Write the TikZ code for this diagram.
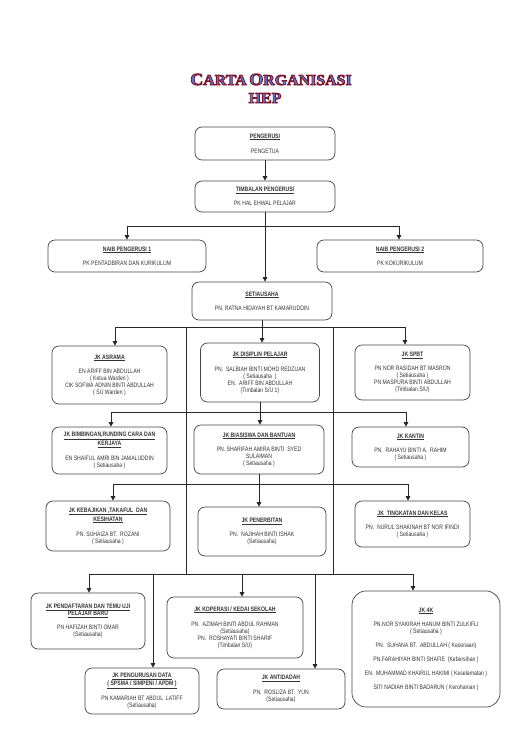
\documentclass[tikz,border=0pt]{standalone}
\usepackage{fontspec}
\setmainfont{Liberation Sans}[FakeStretch=0.8]
\newfontfamily\titlefont{Liberation Serif}[FakeStretch=1.06]
\usetikzlibrary{arrows.meta}
\definecolor{titleblue}{RGB}{85,125,225}
\definecolor{linegray}{RGB}{40,40,40}
\definecolor{boxgray}{RGB}{70,70,70}
\newcommand\boxtitle[1]{\underline{\textbf{#1}}}
\newcommand\bigsmall[2]{{\fontsize{17}{17}\selectfont #1}{\fontsize{15}{15}\selectfont #2}}
\newcommand\outlined[1]{\special{pdf:literal direct 0.49 0.08 0.16 RG 0.9 w 1 j 2 Tr}#1\special{pdf:literal direct 0 Tr}}
\begin{document}
\begin{tikzpicture}[x=1pt,y=-1pt,
  box/.style={draw=boxgray, line width=0.7pt, rounded corners=7pt, align=center,
    font=\fontsize{6.4}{7}\selectfont, text=black!80, inner sep=0pt},
  conn/.style={draw=linegray, line width=0.8pt},
  arr/.style={conn, -{Triangle[length=4.5pt,width=4.5pt]}},
  titletext/.style={anchor=base, inner sep=0pt, font=\titlefont\bfseries, text=titleblue}]
\fill[white] (0,0) rectangle (530,750);
\useasboundingbox (0,0) rectangle (530,750);

% ---- title ----
\node[titletext] (tA) at (271,85) {\outlined{\bigsmall{C}{ARTA} \bigsmall{O}{RGANISASI}}};
\node[titletext, font=\titlefont\bfseries\fontsize{15}{15}\selectfont] (tB) at (265,103) {\outlined{HEP}};

% ---- boxes ----
\node[box, minimum width=140pt, minimum height=33pt] (peng) at (265,143.5)
  {\boxtitle{PENGERUSI}\\[8pt]PENGETUA};
\node[box, minimum width=140pt, minimum height=31pt] (timb) at (265,196.5)
  {\boxtitle{TIMBALAN PENGERUSI}\\[7pt]PK HAL EHWAL PELAJAR};
\node[box, minimum width=158pt, minimum height=32pt] (naib1) at (127,256)
  {\boxtitle{NAIB PENGERUSI 1}\\[7pt]PK PENTADBIRAN DAN KURIKULUM};
\node[box, minimum width=166pt, minimum height=32pt] (naib2) at (400,256)
  {\boxtitle{NAIB PENGERUSI 2}\\[7pt]PK KOKURIKULUM};
\node[box, minimum width=140pt, minimum height=38pt] (setia) at (262,301)
  {\boxtitle{SETIAUSAHA}\\[7pt]PN. RATNA HIDAYAH BT KAMARUDDIN};

\node[box, minimum width=115pt, minimum height=58pt] (asrama) at (109.5,375)
  {\boxtitle{JK ASRAMA}\\[7pt]EN ARIFF BIN ABDULLAH\\( Ketua Warden )\\CIK SOFWA ADNIN BINTI ABDULLAH\\( SU Warden )};
\node[box, minimum width=119pt, minimum height=59pt] (disiplin) at (260,372.5)
  {\boxtitle{JK DISIPLIN PELAJAR}\\[8pt]PN.~ SALBIAH BINTI MOHD REDZUAN\\( Setiausaha~ )\\EN.~ ARIFF BIN ABDULLAH\\(Timbalan S/U 1)};
\node[box, minimum width=115pt, minimum height=55pt] (spbt) at (412.5,372.5)
  {\boxtitle{JK SPBT}\\[7pt]PN NOR RASIDAH BT MASRON\\( Setiausaha )\\PN MASPURA BINTI ABDULLAH\\(Timbalan S/U)};

\node[box, minimum width=115pt, minimum height=47pt] (bimb) at (109.5,450.5)
  {\boxtitle{JK BIMBINGAN,RUNDING CARA DAN}\\[0.5pt]\boxtitle{KERJAYA}\\[8pt]EN SHAIFUL AMRI BIN JAMALUDDIN\\( Setiausaha )};
\node[box, minimum width=130pt, minimum height=49pt] (biasiswa) at (259,449.5)
  {\boxtitle{JK BIASISWA DAN BANTUAN}\\[7pt]PN. SHARIFAH AMIRA BINTI~ SYED\\SULAIMAN\\( Setiausaha )};
\node[box, minimum width=117pt, minimum height=40pt] (kantin) at (410.5,447)
  {\boxtitle{JK KANTIN}\\[7pt]PN.~ RAHAYU BINTI A.~ RAHIM\\( Setiausaha )};

\node[box, minimum width=124pt, minimum height=50pt] (kebaj) at (108,526)
  {\boxtitle{JK KEBAJIKAN ,TAKAFUL~ DAN}\\[0.5pt]\boxtitle{KESIHATAN}\\[8pt]PN. SUHAIZA BT.~ ROZANI\\( Setiausaha )};
\node[box, minimum width=128pt, minimum height=49pt] (penerb) at (262,531.5)
  {\boxtitle{JK PENERBITAN}\\[7pt]PN.~ NAJIHAH BINTI ISHAK\\(Setiausaha)};
\node[box, minimum width=115pt, minimum height=46pt] (tingk) at (412.5,524)
  {\boxtitle{JK~ TINGKATAN DAN KELAS}\\[7pt]PN.~ NURUL SHAKINAH BT NOR IFINDI\\( Setiausaha )};

\node[box, minimum width=114pt, minimum height=56pt] (pendaf) at (88,621)
  {\boxtitle{JK PENDAFTARAN DAN TEMU UJI}\\[0.5pt]\boxtitle{PELAJAR BARU}\\[7pt]PN HAFIZAH BINTI OMAR\\(Setiausaha)};
\node[box, minimum width=114pt, minimum height=46pt] (pengur) at (142,691)
  {\boxtitle{JK PENGURUSAN DATA}\\[0.5pt]\boxtitle{( SPSMA / SIMPENI / APDM )}\\[6pt]PN KAMARIAH BT ABDUL~ LATIFF\\(Setiausaha)};
\node[box, minimum width=136pt, minimum height=61pt] (kopera) at (235,627.5)
  {\boxtitle{JK KOPERASI / KEDAI SEKOLAH}\\[8pt]PN.~ AZIMAH BINTI ABDUL RAHMAN\\(Setiausaha)\\PN.~ ROSHAYATI BINTI SHARIF\\(Timbalan S/U)};
\node[box, minimum width=128pt, minimum height=40pt] (antid) at (281,689)
  {\boxtitle{JK ANTIDADAH}\\[8pt]PN.~ ROSLIZA BT.~ YUN\\(Setiausaha)};
\node[box, rounded corners=14pt, minimum width=148pt, minimum height=116pt] (empatk) at (426,649)
  {\boxtitle{JK 4K}\\[7pt]PN.NOR SYAKIRAH HANUM BINTI ZULKIFLI\\( Setiausaha )\\[7pt]PN.~ SUHANA BT.~ ABDULLAH ( Keceriaan)\\[7pt]PN.FARAHIYAH BINTI SHAFIE~ (Kebersihan )\\[7pt]EN.~ MUHAMMAD KHAIRUL HAKIMI ( Keselamatan )\\[7pt]SITI NADIAH BINTI BADARUN ( Kerohanian )};

% ---- junction coordinates ----
\coordinate (a1) at (127,226);  \coordinate (a2) at (399,226);
\coordinate (b1) at (115,327);  \coordinate (b2) at (405,327);
\coordinate (c1) at (111,412);  \coordinate (c2) at (406,412);
\coordinate (d1) at (113,484);  \coordinate (d2) at (408,484);
\coordinate (e1) at (89,574);   \coordinate (e2) at (413,574);
\coordinate (e3) at (153,574);  \coordinate (e4) at (242,574);  \coordinate (e5) at (315,574);
\coordinate (v1t) at (186,327); \coordinate (v1b) at (186,574);
\coordinate (v2t) at (333,327); \coordinate (v2b) at (333,574);

% ---- connectors ----
\draw[arr] (peng.south) -- (peng.south |- timb.north);
\draw[arr] (timb.south) -- (timb.south |- setia.north);
\draw[conn] (a1) -- (a2);
\draw[arr] (a1) -- (a1 |- naib1.north);
\draw[arr] (a2) -- (a2 |- naib2.north);

\draw[arr] (setia.south) -- (setia.south |- disiplin.north);
\draw[conn] (b1) -- (b2);
\draw[arr] (b1) -- (b1 |- asrama.north);
\draw[arr] (b2) -- (b2 |- spbt.north);
\draw[conn] (v1t) -- (v1b);
\draw[conn] (v2t) -- (v2b);

\draw[arr] (disiplin.south) -- (disiplin.south |- biasiswa.north);
\draw[conn] (c1) -- (c2);
\draw[arr] (c1) -- (c1 |- bimb.north);
\draw[arr] (c2) -- (c2 |- kantin.north);

\draw[arr] (biasiswa.south) -- (biasiswa.south |- penerb.north);
\draw[conn] (d1) -- (d2);
\draw[arr] (d1) -- (d1 |- kebaj.north);
\draw[arr] (d2) -- (d2 |- tingk.north);

\draw[conn] (e1) -- (e2);
\draw[arr] (e1) -- (e1 |- pendaf.north);
\draw[arr] (e3) -- (e3 |- pengur.north);
\draw[arr] (e4) -- (e4 |- kopera.north);
\draw[arr] (e5) -- (e5 |- antid.north);
\draw[arr] (e2) -- (e2 |- empatk.north);
\end{tikzpicture}
\end{document}
